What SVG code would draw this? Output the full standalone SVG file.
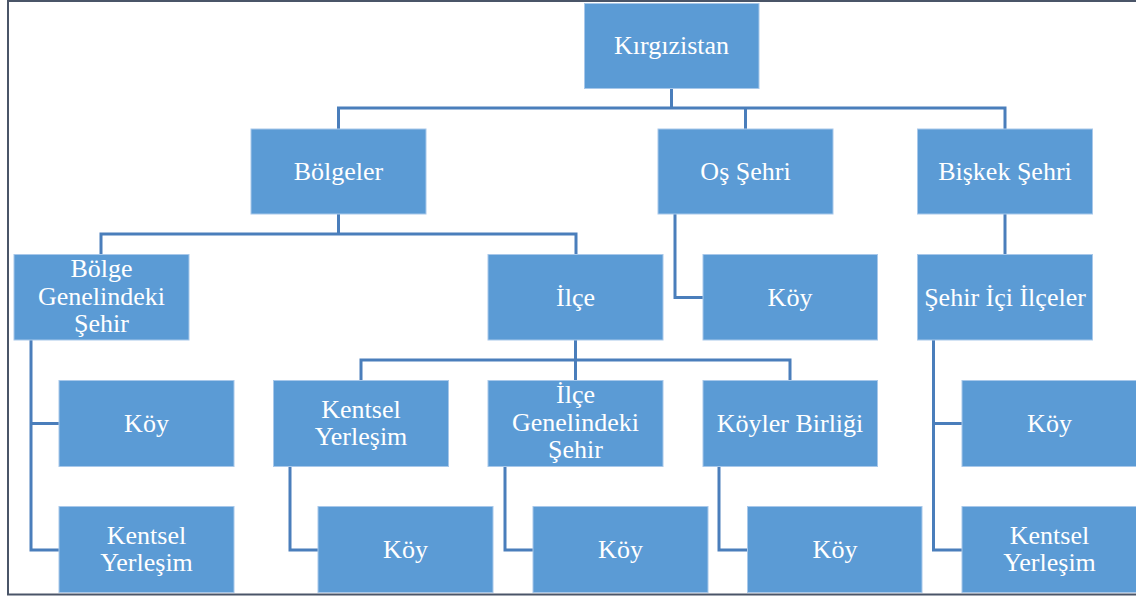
<svg xmlns="http://www.w3.org/2000/svg" width="1136" height="597" viewBox="0 0 1136 597">
<style>
.box{fill:#5B9BD5;stroke:#A8C8EA;stroke-width:1}
.t{font-family:"Liberation Serif","Times New Roman",serif;font-size:26px;fill:#FFFFFF;text-anchor:middle}
.c{fill:none;stroke:#4A7EBB;stroke-width:3}
</style>
<rect x="0" y="0" width="1136" height="597" fill="#FFFFFF"/>
<rect x="8" y="1" width="1140" height="593.5" fill="none" stroke="#4A5568" stroke-width="2"/>
<g id="connectors">
<path class="c" d="M671.5 88V108M338.5 129V108H1005V129M745.5 108V129"/>
<path class="c" d="M338.5 214V234M101 255V234H576V255"/>
<path class="c" d="M675 214V297.5H703"/>
<path class="c" d="M1005 214V255"/>
<path class="c" d="M31 340V550H59M31 423.5H59"/>
<path class="c" d="M575.5 340V360M361 381V360H790V381M575.5 360V381"/>
<path class="c" d="M290 466V550H318"/>
<path class="c" d="M505 466V550H533"/>
<path class="c" d="M719 466V550H748"/>
<path class="c" d="M933.5 340V550H962M933.5 423.5H962"/>
</g>
<g id="n-kirgizistan"><rect class="box" x="584.5" y="3.5" width="174.5" height="85"/><text class="t" x="671.5" y="54">Kırgızistan</text></g>
<g id="n-bolgeler"><rect class="box" x="251" y="129" width="175" height="85"/><text class="t" x="338.5" y="180">Bölgeler</text></g>
<g id="n-os"><rect class="box" x="658" y="129" width="175" height="85"/><text class="t" x="745.5" y="180">Oş Şehri</text></g>
<g id="n-biskek"><rect class="box" x="917.5" y="129" width="175" height="85"/><text class="t" x="1005" y="180">Bişkek Şehri</text></g>
<g id="n-bolge-sehir"><rect class="box" x="14" y="254.5" width="175" height="85.5"/><text class="t" x="101.5"><tspan x="101.5" y="276.5">Bölge</tspan><tspan x="101.5" y="304.5">Genelindeki</tspan><tspan x="101.5" y="332">Şehir</tspan></text></g>
<g id="n-ilce"><rect class="box" x="488" y="254.5" width="175" height="85.5"/><text class="t" x="575.5" y="306">İlçe</text></g>
<g id="n-os-koy"><rect class="box" x="703" y="254.5" width="174.5" height="85.5"/><text class="t" x="790" y="306">Köy</text></g>
<g id="n-sehir-ici"><rect class="box" x="917.5" y="254.5" width="175" height="85.5"/><text class="t" x="1005" y="306">Şehir İçi İlçeler</text></g>
<g id="n-bs-koy"><rect class="box" x="59" y="380.5" width="175" height="86"/><text class="t" x="146.5" y="432">Köy</text></g>
<g id="n-kentsel"><rect class="box" x="273.5" y="380.5" width="175" height="86"/><text class="t" x="361"><tspan x="361" y="417.5">Kentsel</tspan><tspan x="361" y="444.5">Yerleşim</tspan></text></g>
<g id="n-ilce-sehir"><rect class="box" x="488" y="380.5" width="175" height="86"/><text class="t" x="575.5"><tspan x="575.5" y="403">İlçe</tspan><tspan x="575.5" y="431">Genelindeki</tspan><tspan x="575.5" y="458">Şehir</tspan></text></g>
<g id="n-koyler-birligi"><rect class="box" x="703" y="380.5" width="174.5" height="86"/><text class="t" x="790" y="432">Köyler Birliği</text></g>
<g id="n-si-koy"><rect class="box" x="962" y="380.5" width="180" height="86"/><text class="t" x="1049.5" y="432">Köy</text></g>
<g id="n-bs-kentsel"><rect class="box" x="59" y="506.5" width="175" height="86"/><text class="t" x="146.5"><tspan x="146.5" y="544">Kentsel</tspan><tspan x="146.5" y="571">Yerleşim</tspan></text></g>
<g id="n-kentsel-koy"><rect class="box" x="318" y="506.5" width="175" height="86"/><text class="t" x="405.5" y="558">Köy</text></g>
<g id="n-ilce-sehir-koy"><rect class="box" x="533" y="506.5" width="175" height="86"/><text class="t" x="620.5" y="558">Köy</text></g>
<g id="n-kb-koy"><rect class="box" x="747.5" y="506.5" width="174.5" height="86"/><text class="t" x="835" y="558">Köy</text></g>
<g id="n-si-kentsel"><rect class="box" x="962" y="506.5" width="180" height="86"/><text class="t" x="1049.5"><tspan x="1049.5" y="544">Kentsel</tspan><tspan x="1049.5" y="571">Yerleşim</tspan></text></g>
</svg>
